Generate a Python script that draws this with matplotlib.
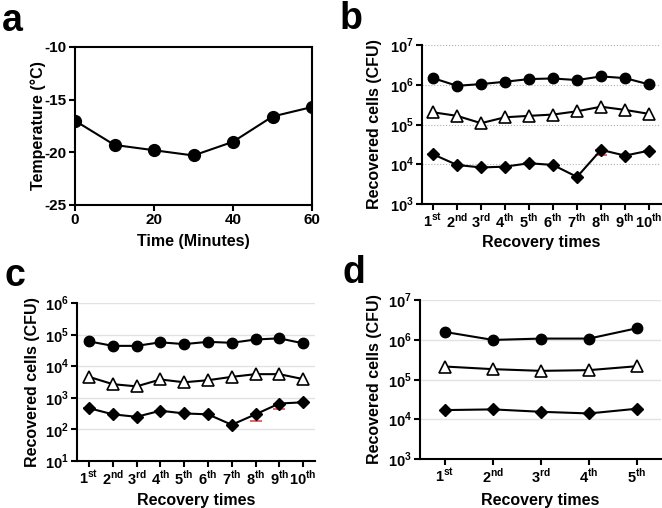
import matplotlib
matplotlib.use("Agg")
import matplotlib.pyplot as plt
from matplotlib.ticker import FixedLocator, NullLocator

plt.rcParams.update({
    "font.family": "Liberation Sans",
    "font.weight": "bold",
    "axes.unicode_minus": False,
    "mathtext.fontset": "custom",
    "mathtext.rm": "Liberation Sans",
    "mathtext.bf": "Liberation Sans:bold",
})

# panel a: temperature over time
time_min = [0, 10, 20, 30, 40, 50, 60]
temp_c = [-17.0, -19.3, -19.8, -20.3, -19.0, -16.6, -15.7]

# panel b
b_circle = [1.47e6, 9.4e5, 1.04e6, 1.19e6, 1.39e6, 1.44e6, 1.31e6, 1.62e6, 1.47e6, 1.02e6]
b_triangle = [2.03e5, 1.65e5, 1.08e5, 1.52e5, 1.65e5, 1.78e5, 2.15e5, 2.8e5, 2.33e5, 1.85e5]
b_diamond = [1.78e4, 9.6e3, 8.3e3, 8.7e3, 1.06e4, 9.6e3, 4.8e3, 2.3e4, 1.65e4, 2.2e4]
b_diamond_low = [0, 0, 0, 0, 0, 0, 0, 5.5e3, 0, 0]

# panel c
c_circle = [6.1e4, 4.4e4, 4.4e4, 5.7e4, 5.0e4, 5.9e4, 5.5e4, 7.0e4, 7.6e4, 5.3e4]
c_triangle = [4.6e3, 2.7e3, 2.3e3, 3.8e3, 3.1e3, 3.6e3, 4.6e3, 5.6e3, 5.6e3, 3.9e3]
c_diamond = [4.7e2, 3.0e2, 2.5e2, 3.9e2, 3.2e2, 3.0e2, 1.4e2, 3.0e2, 6.6e2, 7.2e2]
c_diamond_low = [0, 0, 0, 0, 0, 0, 0, 1.14e2, 2.1e2, 0]

# panel d
d_circle = [1.57e6, 9.9e5, 1.07e6, 1.07e6, 1.95e6]
d_triangle = [2.12e5, 1.82e5, 1.65e5, 1.72e5, 2.16e5]
d_diamond = [1.7e4, 1.77e4, 1.54e4, 1.4e4, 1.84e4]

ordinals = ["1$^{\\mathrm{st}}$", "2$^{\\mathrm{nd}}$", "3$^{\\mathrm{rd}}$"] + [
    f"{i}$^{{\\mathrm{{th}}}}$" for i in range(4, 11)
]

W, H = 662, 508
fig = plt.figure(figsize=(W / 100, H / 100), dpi=100)


def px_axes(x0, y0, x1, y1):
    return fig.add_axes([x0 / W, 1 - y1 / H, (x1 - x0) / W, (y1 - y0) / H])


def style_ticks(ax, size=10.5):
    ax.tick_params(axis="both", direction="out", length=4, width=1.5,
                   labelsize=size, pad=2)
    for lab in ax.get_xticklabels() + ax.get_yticklabels():
        lab.set_fontweight("bold")


def set_labels(ax, xlabel, ylabel, xpos, ypos):
    ax.set_xlabel(xlabel, fontsize=11.5, fontweight="bold", va="center")
    ax.set_ylabel(ylabel, fontsize=11.5, fontweight="bold", va="center")
    ax.xaxis.set_label_coords(0.5, xpos)
    ax.yaxis.set_label_coords(ypos, 0.5)


def recovery_panel(ax, n, circle, tri, dia, dia_low, decades, grid_style, xlim):
    x = list(range(1, n + 1))
    if dia_low is not None:
        ax.errorbar(x, dia, yerr=[dia_low, [0] * n], fmt="none", ecolor="#e8474f",
                    elinewidth=1.0, capsize=4, capthick=1.2, zorder=2)
    kw = dict(color="black", lw=1.5, zorder=3)
    ax.plot(x, circle, marker="o", ms=7.5, mfc="black", mec="black", **kw)
    ax.plot(x, tri, marker="^", ms=8.5, mfc="white", mec="black", mew=1.2, **kw)
    ax.plot(x, dia, marker="D", ms=6.5, mfc="black", mec="black", **kw)
    ax.set_yscale("log")
    ax.set_ylim(10 ** decades[0], 10 ** decades[-1])
    ax.yaxis.set_major_locator(FixedLocator([10 ** d for d in decades]))
    ax.yaxis.set_minor_locator(NullLocator())
    ax.set_yticklabels([f"10$^{{\\mathrm{{{d}}}}}$" for d in decades])
    ax.set_xlim(*xlim)
    ax.set_xticks(x)
    ax.set_xticklabels(ordinals[:n])
    for d in decades[1:]:
        ax.axhline(10 ** d, zorder=1, **grid_style)
    for s in ("top", "right"):
        ax.spines[s].set_visible(False)
    for s in ("left", "bottom"):
        ax.spines[s].set_linewidth(1.5)
    style_ticks(ax)


# a
ax_a = px_axes(75, 47, 312, 205)
ax_a.plot(time_min, temp_c, color="black", lw=1.5, marker="o", ms=8.5)
ax_a.set_xlim(0, 60)
ax_a.set_ylim(-25, -10)
ax_a.set_xticks([0, 20, 40, 60])
ax_a.set_yticks([-25, -20, -15, -10])
for s in ax_a.spines.values():
    s.set_linewidth(1.5)
style_ticks(ax_a, 11)
set_labels(ax_a, "Time (Minutes)", "Temperature (°C)", -0.234, -0.156)

# b
ax_b = px_axes(422, 45, 661, 204)
recovery_panel(ax_b, 10, b_circle, b_triangle, b_diamond, b_diamond_low,
               [3, 4, 5, 6, 7], dict(color="#b0b0b0", lw=0.8, ls=":"), (0.54, 10.5))
set_labels(ax_b, "Recovery times", "Recovered cells (CFU)", -0.244, -0.197)

# c
ax_c = px_axes(77, 303, 315, 461)
recovery_panel(ax_c, 10, c_circle, c_triangle, c_diamond, c_diamond_low,
               [1, 2, 3, 4, 5, 6], dict(color="#e2e2e2", lw=1.0, ls="-"), (0.495, 10.5))
set_labels(ax_c, "Recovery times", "Recovered cells (CFU)", -0.253, -0.185)

# d
ax_d = px_axes(420, 300, 661, 459)
recovery_panel(ax_d, 5, d_circle, d_triangle, d_diamond, None,
               [3, 4, 5, 6, 7], dict(color="#e2e2e2", lw=1.0, ls="-"), (0.48, 5.5))
set_labels(ax_d, "Recovery times", "Recovered cells (CFU)", -0.264, -0.187)

for letter, (x, y) in {"a": (2, 3), "b": (340, 1), "c": (4, 258), "d": (343, 255)}.items():
    fig.text(x / W, 1 - y / H, letter, fontsize=27, fontweight="bold", va="top", ha="left")

fig.savefig("out.png", dpi=100)
